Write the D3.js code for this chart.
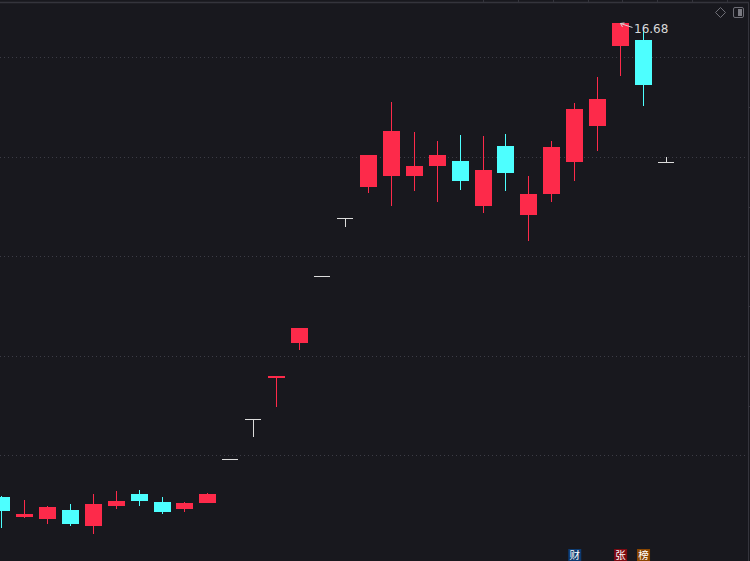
<!DOCTYPE html>
<html>
<head>
<meta charset="utf-8">
<script src="https://cdn.jsdelivr.net/npm/d3@7/dist/d3.min.js"></script>
<style>
  html, body { margin: 0; padding: 0; background: #18181e; }
  svg { display: block; }
</style>
</head>
<body>
<svg id="chart" width="750" height="561"></svg>
<script>
// ---- data ----
const categories = d3.range(1, 31).map(d => "D" + d);
const openV  = [7.16,6.76,6.72,6.90,6.58,6.98,7.22,7.06,6.92,7.04,7.93,8.72,9.56,10.26,11.60,12.76,13.39,13.61,13.61,13.82,13.92,13.01,14.22,12.83,13.25,13.90,14.62,16.23,16.35,13.90];
const highV  = [7.18,7.10,6.99,7.02,7.22,7.28,7.30,7.16,7.06,7.24,7.93,8.72,9.59,10.56,11.60,12.76,14.04,15.10,14.50,14.32,14.44,14.42,14.46,13.61,14.32,15.08,15.60,16.68,16.60,13.99];
const lowV   = [6.54,6.74,6.62,6.58,6.42,6.92,6.98,6.82,6.86,7.04,7.93,8.37,8.97,10.12,11.60,12.59,13.27,13.01,13.31,13.09,13.33,12.87,13.31,12.31,13.09,13.51,14.12,15.62,15.02,13.90];
const closeV = [6.88,6.82,6.96,6.62,7.02,7.08,7.08,6.86,7.04,7.22,7.93,8.72,9.59,10.56,11.60,12.76,14.04,14.52,13.82,14.04,13.51,13.73,13.67,13.25,14.20,14.96,15.16,16.68,15.44,13.90];
const gridPrices = [8, 10, 12, 14, 16];
const axisTickPrices = [9, 11, 13, 15];
const markerDays = ["D26", "D28", "D29"];
const markerTexts = ["财", "张", "榜"];
const markerColors = ["#0c3a70", "#7d0a12", "#8a4600"];
const topTicks = d3.range(0, 8);

// ---- style ----
const W = 750, H = 561;
const RED = "#fd2a4a", CYAN = "#4dffff", DOJI = "#dcdcdc";
const BORDER = "#34343c", GRID = "#3c3c46";

const data = categories.map((c, i) => ({
  cat: c, o: openV[i], h: highV[i], l: lowV[i], c: closeV[i]
}));

const svg = d3.select("#chart");
svg.append("rect").attr("width", W).attr("height", H).attr("fill", "#18181e");

const step = 22.93;
const x = d3.scaleBand().domain(categories)
  .range([1.5 - step / 2, 1.5 - step / 2 + step * categories.length])
  .paddingInner(0.26).paddingOuter(0.13);
const y = d3.scaleLinear().domain([8, 16]).range([455.3, 57.3]);
const cx = d => Math.floor(x(d) + x.bandwidth() / 2);

// grid lines (dotted)
svg.append("g").selectAll("line").data(gridPrices).join("line")
  .attr("x1", 0).attr("x2", 746)
  .attr("y1", d => Math.round(y(d)) + 0.5).attr("y2", d => Math.round(y(d)) + 0.5)
  .attr("stroke", GRID).attr("stroke-width", 1).attr("stroke-dasharray", "1,3");

// frame: top line and right line
svg.append("line").attr("x1", 0).attr("x2", 749).attr("y1", 2.5).attr("y2", 2.5)
  .attr("stroke", BORDER).attr("stroke-width", 1.5);
svg.append("line").attr("x1", 748.5).attr("x2", 748.5).attr("y1", 2).attr("y2", H)
  .attr("stroke", BORDER).attr("stroke-width", 1);
const tx = d3.scaleLinear().domain([0, 7]).range([483, 727]);
svg.append("g").selectAll("line").data(topTicks).join("line")
  .attr("x1", d => Math.round(tx(d)) + 0.5).attr("x2", d => Math.round(tx(d)) + 0.5)
  .attr("y1", 0).attr("y2", 3).attr("stroke", BORDER);
svg.append("g").selectAll("line").data(axisTickPrices).join("line")
  .attr("x1", 748).attr("x2", 750)
  .attr("y1", d => Math.round(y(d)) + 0.5).attr("y2", d => Math.round(y(d)) + 0.5)
  .attr("stroke", BORDER);

// candles
const colorOf = d => d.c > d.o ? RED : (d.c < d.o ? CYAN : DOJI);
const g = svg.append("g").attr("shape-rendering", "crispEdges");
const candle = g.selectAll("g.candle").data(data).join("g").attr("class", "candle");
candle.append("rect")
  .attr("x", d => cx(d.cat)).attr("width", 1)
  .attr("y", d => Math.round(y(d.h)))
  .attr("height", d => Math.max(1, Math.round(y(d.l)) - Math.round(y(d.h))))
  .attr("fill", colorOf);
candle.append("rect")
  .attr("x", d => Math.round(x(d.cat)))
  .attr("width", d => d.c === d.o ? Math.round(x.bandwidth()) - 1 : Math.round(x.bandwidth()))
  .attr("y", d => Math.round(y(Math.max(d.o, d.c))))
  .attr("height", d => Math.max(1, Math.round(y(Math.min(d.o, d.c))) - Math.round(y(Math.max(d.o, d.c)))))
  .attr("fill", colorOf);

// max high annotation
const maxD = data.reduce((a, b) => b.h > a.h ? b : a);
const ax = cx(maxD.cat) + 0.5, ay = y(maxD.h);
const ann = svg.append("g").attr("stroke", "#d4d4d4").attr("fill", "none").attr("stroke-width", 1);
ann.append("line").attr("x1", ax).attr("y1", ay).attr("x2", ax + 12).attr("y2", ay + 4);
ann.append("path").attr("d", `M${ax + 4},${ay - 0.5} L${ax},${ay} L${ax + 2},${ay + 3.5}`);
svg.append("text").attr("x", ax + 13.5).attr("y", ay + 10)
  .attr("fill", "#d8d8d8").attr("font-family", "DejaVu Sans, sans-serif")
  .attr("font-size", 12).text(maxD.h.toFixed(2));

// top-right icons
const ic = svg.append("g").attr("stroke", "#6e6e76").attr("fill", "none").attr("stroke-width", 1);
ic.append("path").attr("d", "M720.5,7.5 L725.5,12.5 L720.5,17.5 L715.5,12.5 Z");
ic.append("rect").attr("x", 733.5).attr("y", 7.5).attr("width", 10).attr("height", 10).attr("rx", 1.5);
svg.append("rect").attr("x", 738).attr("y", 9).attr("width", 4).attr("height", 7).attr("fill", "#7a7a82");

// bottom markers
const mk = svg.append("g").selectAll("g").data(markerDays.map((d, i) => ({ d, t: markerTexts[i], c: markerColors[i] })))
  .join("g");
mk.append("rect")
  .attr("x", m => x(m.d) + x.bandwidth() / 2 - 6.5).attr("y", 549)
  .attr("width", 13).attr("height", 12).attr("fill", m => m.c);
mk.append("text")
  .attr("x", m => x(m.d) + x.bandwidth() / 2).attr("y", 558.5)
  .attr("text-anchor", "middle").attr("fill", "#ffffff")
  .attr("font-family", "Noto Sans CJK SC, sans-serif").attr("font-size", 10.5)
  .text(m => m.t);
</script>
</body>
</html>
